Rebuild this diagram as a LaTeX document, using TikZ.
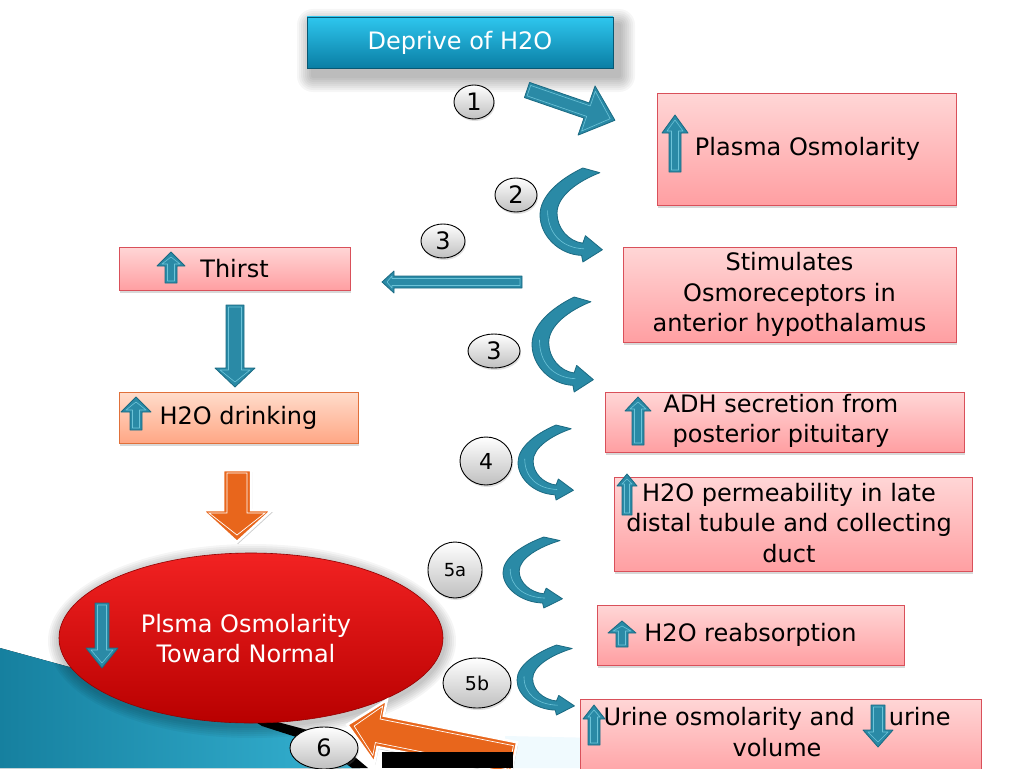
\documentclass[tikz,border=0pt]{standalone}
\usepackage{fontspec}
\setmainfont{DejaVu Sans}
\usetikzlibrary{shapes.geometric,shadows}
\definecolor{teal1}{HTML}{2A8AA6}
\definecolor{teal2}{HTML}{1B6A82}
\definecolor{tealL}{HTML}{6CC3D8}
\definecolor{pinkT}{HTML}{FFD6D6}
\definecolor{pinkB}{HTML}{FF9FA2}
\definecolor{pinkE}{HTML}{D9505A}
\definecolor{orT}{HTML}{FFDCCB}
\definecolor{orB}{HTML}{FFA785}
\definecolor{orE}{HTML}{E0703A}
\definecolor{orF}{HTML}{E8661C}
\definecolor{cyT}{HTML}{2EC6EE}
\definecolor{cyB}{HTML}{0A7EA4}
\definecolor{redT}{HTML}{F22222}
\definecolor{redB}{HTML}{B80000}
\definecolor{bgA}{HTML}{16809F}
\definecolor{bgB}{HTML}{35B2D2}

\newcommand\tealblock[7]{%
 \begin{scope}[shift={(#1,#2)},rotate=#3]
  \path[tealarrow] (0,-#5) -- ({#4-#7},-#5) -- ({#4-#7},-#6) -- (#4,0) -- ({#4-#7},#6) -- ({#4-#7},#5) -- (0,#5) -- cycle;
  \path[tealinner] (2,{-(#5)+2.5}) -- ({#4-#7+2},{-(#5)+2.5}) -- ({#4-#7+2},{-(#6)+5}) -- ({#4-5},0) -- ({#4-#7+2},{#6-5}) -- ({#4-#7+2},{#5-2.5}) -- (2,{#5-2.5}) -- cycle;
 \end{scope}}
\newcommand\orblock[7]{%
 \begin{scope}[shift={(#1,#2)},rotate=#3]
  \path[orarrow] (0,-#5) -- ({#4-#7},-#5) -- ({#4-#7},-#6) -- (#4,0) -- ({#4-#7},#6) -- ({#4-#7},#5) -- (0,#5) -- cycle;
  \path[draw=white, line width=0.7pt] (3,{-(#5)+4}) -- ({#4-#7+3},{-(#5)+4}) -- ({#4-#7+3},{-(#6)+7}) -- ({#4-7},0) -- ({#4-#7+3},{#6-7}) -- ({#4-#7+3},{#5-4}) -- (3,{#5-4}) -- cycle;
 \end{scope}}
\newcommand\curvarr[4]{%
 \begin{scope}[shift={(#1,#2)},xscale=#3,yscale=#4]
  \path[tealarrow] (0.68,0) .. controls (0.3,0.12) and (0,0.3) .. (0,0.5)
    .. controls (0,0.72) and (0.3,0.92) .. (0.66,0.93) -- (0.68,1.0) -- (0.99,0.87)
    -- (0.72,0.72) -- (0.68,0.8) .. controls (0.45,0.78) and (0.27,0.64) .. (0.27,0.48)
    .. controls (0.27,0.3) and (0.6,0.14) .. (0.95,0.05) -- cycle;
  \path[tealinner] (0.12,0.45) .. controls (0.12,0.7) and (0.35,0.85) .. (0.7,0.86);
 \end{scope}}

\begin{document}
\begin{tikzpicture}[x=1pt,y=-1pt,
  font=\fontsize{24}{30.5}\selectfont,
  pinkbox/.style={draw=pinkE, line width=0.9pt, top color=pinkT, bottom color=pinkB, inner sep=0pt, align=center, drop shadow={opacity=0.3, shadow xshift=1pt, shadow yshift=-3pt}},
  orbox/.style={pinkbox, draw=orE, top color=orT, bottom color=orB},
  badge/.style={ellipse, draw=black, line width=0.9pt, top color=white, bottom color=black!25, inner sep=0pt, drop shadow={opacity=0.25, shadow xshift=1pt, shadow yshift=-2pt}},
  tealarrow/.style={fill=teal1, draw=teal2, line width=0.8pt, line join=round},
  tealinner/.style={draw=tealL, line width=0.6pt, line join=round},
  orarrow/.style={fill=orF, draw=white, line width=2.5pt, line join=miter, drop shadow={opacity=0.4, shadow xshift=1pt, shadow yshift=-2pt}},
  txt/.style={align=center, inner sep=0pt}
]
\clip (0,0) rectangle (1024,768);
\fill[white] (0,0) rectangle (1024,768);

% background shapes
\fill[left color=bgA, right color=bgB] (0,648) -- (270,722) -- (360,768) -- (0,768) -- cycle;
\fill[black] (240,712) -- (330,736) -- (368,768) -- (352,768) -- (318,744) -- (262,726) -- cycle;
\fill[cyan!6] (505,736) -- (600,738) -- (600,768) -- (505,768) -- cycle;

% deprive box with soft shadow
\foreach \d in {2,4,...,16} {\fill[black, opacity=0.035, rounded corners=\d] ({313-\d},{25-\d}) rectangle ({619+\d},{76+\d});}
\node[draw=cyB!70!black, line width=0.8pt, top color=cyT, bottom color=cyB, minimum width=306, minimum height=51, inner sep=0pt, text=white] (deprive) at (460,42.5) {Deprive of H2O};

% badges
\node[badge, minimum width=40, minimum height=34] (b1) at (474,102) {1};
\node[badge, minimum width=42, minimum height=34] (b2) at (516,195) {2};
\node[badge, minimum width=44, minimum height=34] (b3a) at (443,241) {3};
\node[badge, minimum width=52, minimum height=34] (b3b) at (494,351) {3};
\node[badge, minimum width=52, minimum height=48, font=\fontsize{22}{26}\selectfont] (b4) at (486,461) {4};
\node[badge, minimum width=54, minimum height=56, font=\fontsize{18}{22}\selectfont] (b5a) at (455,570) {5a};
\node[badge, minimum width=68, minimum height=50, font=\fontsize{19}{22}\selectfont] (b5b) at (477,683) {5b};

% teal arrows
\tealblock{527}{90}{-19}{93}{8}{26}{30}
\tealblock{522}{282}{180}{140}{6}{11}{12}
\tealblock{235}{305}{-90}{82}{9}{20}{19}
\curvarr{540}{168}{63}{94}
\curvarr{532}{297}{62}{95}
\curvarr{518}{425}{56}{75}
\curvarr{503}{537}{60}{71}
\curvarr{517}{645}{58}{70}

% boxes
\node[pinkbox, minimum width=299, minimum height=112] (plasma) at (806.5,149) {\hspace{2pt}Plasma Osmolarity};
\node[pinkbox, minimum width=231, minimum height=43] (thirst) at (234.5,268.5) {Thirst};
\node[pinkbox, minimum width=333, minimum height=95] (stim) at (789.5,294.5) {Stimulates\\Osmoreceptors in\\anterior hypothalamus};
\node[orbox, minimum width=239, minimum height=51] (drink) at (238.5,417.5) {H2O drinking};
\node[pinkbox, minimum width=359, minimum height=60] (adh) at (784.5,422) {};
\node[txt] (adhtxt) at (781,421) {ADH secretion from\\posterior pituitary};
\node[pinkbox, minimum width=358, minimum height=94] (perm) at (793,524) {};
\node[txt] (permtxt) at (789,523) {H2O permeability in late\\distal tubule and collecting\\duct};
\node[pinkbox, minimum width=307, minimum height=60] (reab) at (750.5,635) {H2O reabsorption};
\node[pinkbox, minimum width=401, minimum height=82] (urine) at (780.5,740) {};
\node[txt] (urinetxt) at (777,732) {Urine osmolarity and\hspace{34pt}urine\\volume};

% icons
\tealblock{675}{172}{90}{57}{6}{13}{18}
\tealblock{171}{283}{90}{31}{6}{14}{14}
\tealblock{136}{430}{90}{33}{6}{15}{15}
\tealblock{638}{445}{90}{48}{6}{13}{14}
\tealblock{627}{515}{90}{41}{5}{10}{12}
\tealblock{622}{647}{90}{26}{6}{14}{12}
\tealblock{594}{745}{90}{40}{6}{11}{14}
\tealblock{878}{705}{-90}{42}{7}{15}{17}

% orange arrow down
\orblock{237}{470}{-90}{72}{14}{35}{32}

% red ellipse
\foreach \d in {2,4,...,12} {\fill[black, opacity=0.04] (252,641) ellipse [x radius={192+\d}, y radius={85+\d}];}
\node[ellipse, draw=redB!80!black, line width=0.6pt, top color=redT, bottom color=redB, minimum width=384, minimum height=170, inner sep=0pt] (normal) at (251,638) {};
\node[txt, text=white] (normaltxt) at (246,638.5) {Plsma Osmolarity\\Toward Normal};
\tealblock{102}{603}{-90}{65}{7}{16}{20}

% arrow 6
\node[badge, minimum width=68, minimum height=42] (b6) at (324,748) {6};
\orblock{514}{758}{168.7}{170}{16}{32}{34}
\fill[black] (382,752) rectangle (513,768);
\end{tikzpicture}
\end{document}
